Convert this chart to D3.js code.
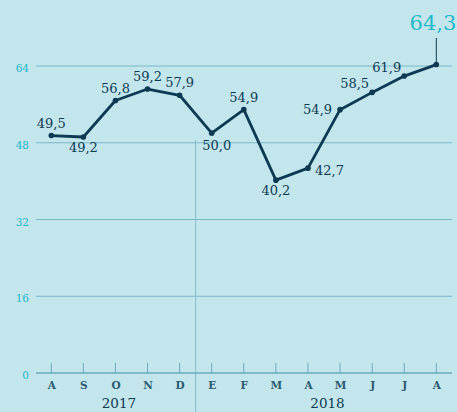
<!DOCTYPE html>
<html>
<head>
<meta charset="utf-8">
<script src="https://cdn.jsdelivr.net/npm/d3@7"></script>
<style>
  body { margin: 0; background: #c3e5ec; }
  svg { display: block; }
</style>
</head>
<body>
<div id="chart"></div>
<script>
var months = ["A", "S", "O", "N", "D", "E", "F", "M", "A", "M", "J", "J", "A"];
var values = [49.5, 49.2, 56.8, 59.2, 57.9, 50.0, 54.9, 40.2, 42.7, 54.9, 58.5, 61.9, 64.3];
var yTicks = [0, 16, 32, 48, 64];
var years = [{ label: "2017", from: 0, to: 4 }, { label: "2018", from: 5, to: 12 }];
// where each value label sits relative to its point
var labelPos = ["above", "below", "above", "above", "above", "belowRight", "above", "below", "right", "left", "aboveLeft", "aboveLeft", "big"];

var width = 457;
var height = 412;
var navy = "#0d3a52";
var teal = "#22b8c8";
var grid = "#7ab8c8";

var svg = d3.select("#chart")
    .append("svg")
    .attr("width", width)
    .attr("height", height);

svg.append("rect")
    .attr("width", width)
    .attr("height", height)
    .attr("fill", "#c3e5ec");

var xScale = d3.scalePoint()
    .domain(d3.range(months.length))
    .range([51.3, 436.3]);

var yScale = d3.scaleLinear()
    .domain([0, 64])
    .range([373, 66]);

// grid lines
svg.append("g")
    .selectAll("line")
    .data(yTicks.filter(d => d > 0))
    .enter()
    .append("line")
    .attr("x1", 36)
    .attr("x2", 452)
    .attr("y1", d => yScale(d))
    .attr("y2", d => yScale(d))
    .attr("stroke", grid)
    .attr("stroke-width", 1);

// y labels
svg.append("g")
    .selectAll("text")
    .data(yTicks)
    .enter()
    .append("text")
    .attr("x", 29)
    .attr("y", d => yScale(d) + 6)
    .attr("text-anchor", "end")
    .attr("font-family", "DejaVu Serif")
    .attr("font-size", "10.5px")
    .attr("fill", teal)
    .text(d => d);

// year divider
var divX = (xScale(4) + xScale(5)) / 2;
svg.append("line")
    .attr("x1", divX).attr("x2", divX)
    .attr("y1", 140).attr("y2", 412)
    .attr("stroke", "#86bccb")
    .attr("stroke-width", 1);

// x axis
var xAxis = d3.axisBottom(xScale)
    .tickSize(0)
    .tickFormat(i => months[i]);
var gx = svg.append("g")
    .attr("transform", "translate(0," + yScale(0) + ")")
    .call(xAxis);
gx.select(".domain").remove();
gx.selectAll("text")
    .attr("y", 12)
    .attr("dy", "0.35em")
    .attr("font-family", "DejaVu Serif")
    .attr("font-weight", "bold")
    .attr("font-size", "10.5px")
    .attr("fill", "#2c5a70");

svg.append("line")
    .attr("x1", 36).attr("x2", 452)
    .attr("y1", yScale(0)).attr("y2", yScale(0))
    .attr("stroke", "#6aaabb")
    .attr("stroke-width", 1.5);

svg.append("g")
    .selectAll("line")
    .data(d3.range(months.length))
    .enter()
    .append("line")
    .attr("x1", d => xScale(d)).attr("x2", d => xScale(d))
    .attr("y1", yScale(0) - 10).attr("y2", yScale(0))
    .attr("stroke", "#6aaabb")
    .attr("stroke-width", 1);

svg.append("g")
    .selectAll("text")
    .data(years)
    .enter()
    .append("text")
    .attr("x", d => (xScale(d.from) + xScale(d.to)) / 2 + 3.5)
    .attr("y", 408)
    .attr("text-anchor", "middle")
    .attr("font-family", "DejaVu Serif")
    .attr("font-size", "13.5px")
    .attr("fill", navy)
    .text(d => d.label);

// leader to the last value
var last = values.length - 1;
svg.append("line")
    .attr("x1", xScale(last)).attr("x2", xScale(last))
    .attr("y1", 38).attr("y2", yScale(values[last]))
    .attr("stroke", navy)
    .attr("stroke-width", 1);

// line
svg.append("path")
    .datum(values)
    .attr("fill", "none")
    .attr("stroke", navy)
    .attr("stroke-width", 2.8)
    .attr("stroke-linejoin", "round")
    .attr("d", d3.line()
        .x((d, i) => xScale(i))
        .y(d => yScale(d)));

svg.append("g")
    .selectAll("circle")
    .data(values)
    .enter()
    .append("circle")
    .attr("cx", (d, i) => xScale(i))
    .attr("cy", d => yScale(d))
    .attr("r", 2.8)
    .attr("fill", navy);

// value labels
var fmt = d => d.toFixed(1).replace(".", ",");
var place = {
    above: { anchor: "middle", dx: 0, dy: -8 },
    below: { anchor: "middle", dx: 0, dy: 15 },
    belowRight: { anchor: "middle", dx: 5, dy: 17 },
    right: { anchor: "start", dx: 7, dy: 7 },
    left: { anchor: "end", dx: -8, dy: 4.5 },
    aboveLeft: { anchor: "end", dx: -3, dy: -4.5 },
    big: { anchor: "end", dx: 20, dy: 0 }
};
svg.append("g")
    .selectAll("text")
    .data(values)
    .enter()
    .append("text")
    .attr("font-family", "DejaVu Serif")
    .attr("font-size", (d, i) => labelPos[i] === "big" ? "21px" : "13px")
    .attr("fill", (d, i) => labelPos[i] === "big" ? teal : navy)
    .attr("text-anchor", (d, i) => place[labelPos[i]].anchor)
    .attr("x", (d, i) => xScale(i) + place[labelPos[i]].dx)
    .attr("y", (d, i) => labelPos[i] === "big" ? 30 : yScale(d) + place[labelPos[i]].dy)
    .text(d => fmt(d));
</script>
</body>
</html>
